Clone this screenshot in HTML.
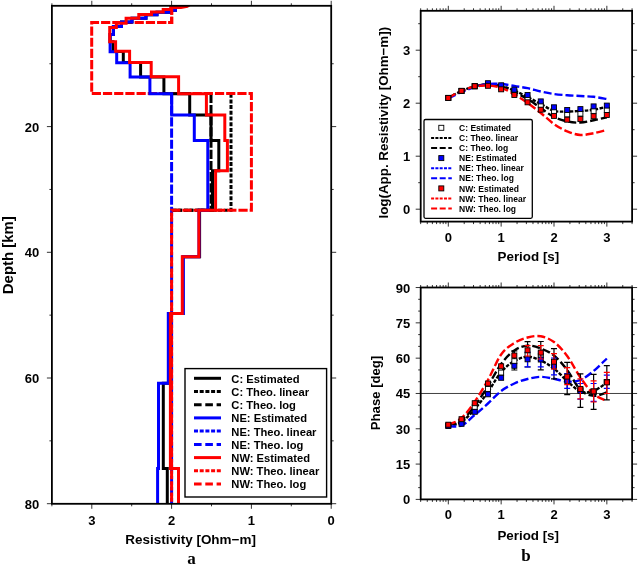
<!DOCTYPE html>
<html><head><meta charset="utf-8"><style>
html,body{margin:0;padding:0;background:#fff;width:638px;height:568px;overflow:hidden}
svg{display:block;filter:blur(0.35px)}
</style></head><body>
<svg width="638" height="568" viewBox="0 0 638 568">
<rect width="638" height="568" fill="#fff"/>
<defs><clipPath id="cl"><rect x="51.9" y="5.8" width="279.3" height="498.0"/></clipPath>
<clipPath id="cr1"><rect x="420.7" y="10.8" width="211.4" height="210.8"/></clipPath>
<clipPath id="cr2"><rect x="420.7" y="287.5" width="211.6" height="211.9"/></clipPath></defs>
<line x1="51.90" y1="503.80" x2="51.90" y2="506.30" stroke="#000000" stroke-width="1" stroke-opacity="0.8"/>
<line x1="51.90" y1="5.80" x2="51.90" y2="3.30" stroke="#000000" stroke-width="1" stroke-opacity="0.8"/>
<line x1="91.80" y1="503.80" x2="91.80" y2="508.80" stroke="#000000" stroke-width="1" stroke-opacity="0.8"/>
<line x1="91.80" y1="5.80" x2="91.80" y2="0.80" stroke="#000000" stroke-width="1" stroke-opacity="0.8"/>
<line x1="131.70" y1="503.80" x2="131.70" y2="506.30" stroke="#000000" stroke-width="1" stroke-opacity="0.8"/>
<line x1="131.70" y1="5.80" x2="131.70" y2="3.30" stroke="#000000" stroke-width="1" stroke-opacity="0.8"/>
<line x1="171.60" y1="503.80" x2="171.60" y2="508.80" stroke="#000000" stroke-width="1" stroke-opacity="0.8"/>
<line x1="171.60" y1="5.80" x2="171.60" y2="0.80" stroke="#000000" stroke-width="1" stroke-opacity="0.8"/>
<line x1="211.50" y1="503.80" x2="211.50" y2="506.30" stroke="#000000" stroke-width="1" stroke-opacity="0.8"/>
<line x1="211.50" y1="5.80" x2="211.50" y2="3.30" stroke="#000000" stroke-width="1" stroke-opacity="0.8"/>
<line x1="251.40" y1="503.80" x2="251.40" y2="508.80" stroke="#000000" stroke-width="1" stroke-opacity="0.8"/>
<line x1="251.40" y1="5.80" x2="251.40" y2="0.80" stroke="#000000" stroke-width="1" stroke-opacity="0.8"/>
<line x1="291.30" y1="503.80" x2="291.30" y2="506.30" stroke="#000000" stroke-width="1" stroke-opacity="0.8"/>
<line x1="291.30" y1="5.80" x2="291.30" y2="3.30" stroke="#000000" stroke-width="1" stroke-opacity="0.8"/>
<line x1="331.20" y1="503.80" x2="331.20" y2="508.80" stroke="#000000" stroke-width="1" stroke-opacity="0.8"/>
<line x1="331.20" y1="5.80" x2="331.20" y2="0.80" stroke="#000000" stroke-width="1" stroke-opacity="0.8"/>
<line x1="49.40" y1="63.75" x2="51.90" y2="63.75" stroke="#000000" stroke-width="1" stroke-opacity="0.8"/>
<line x1="331.20" y1="63.75" x2="333.70" y2="63.75" stroke="#000000" stroke-width="1" stroke-opacity="0.8"/>
<line x1="46.90" y1="126.60" x2="51.90" y2="126.60" stroke="#000000" stroke-width="1" stroke-opacity="0.8"/>
<line x1="331.20" y1="126.60" x2="336.20" y2="126.60" stroke="#000000" stroke-width="1" stroke-opacity="0.8"/>
<line x1="49.40" y1="189.45" x2="51.90" y2="189.45" stroke="#000000" stroke-width="1" stroke-opacity="0.8"/>
<line x1="331.20" y1="189.45" x2="333.70" y2="189.45" stroke="#000000" stroke-width="1" stroke-opacity="0.8"/>
<line x1="46.90" y1="252.30" x2="51.90" y2="252.30" stroke="#000000" stroke-width="1" stroke-opacity="0.8"/>
<line x1="331.20" y1="252.30" x2="336.20" y2="252.30" stroke="#000000" stroke-width="1" stroke-opacity="0.8"/>
<line x1="49.40" y1="315.15" x2="51.90" y2="315.15" stroke="#000000" stroke-width="1" stroke-opacity="0.8"/>
<line x1="331.20" y1="315.15" x2="333.70" y2="315.15" stroke="#000000" stroke-width="1" stroke-opacity="0.8"/>
<line x1="46.90" y1="378.00" x2="51.90" y2="378.00" stroke="#000000" stroke-width="1" stroke-opacity="0.8"/>
<line x1="331.20" y1="378.00" x2="336.20" y2="378.00" stroke="#000000" stroke-width="1" stroke-opacity="0.8"/>
<line x1="49.40" y1="440.85" x2="51.90" y2="440.85" stroke="#000000" stroke-width="1" stroke-opacity="0.8"/>
<line x1="331.20" y1="440.85" x2="333.70" y2="440.85" stroke="#000000" stroke-width="1" stroke-opacity="0.8"/>
<line x1="46.90" y1="503.70" x2="51.90" y2="503.70" stroke="#000000" stroke-width="1" stroke-opacity="0.8"/>
<line x1="331.20" y1="503.70" x2="336.20" y2="503.70" stroke="#000000" stroke-width="1" stroke-opacity="0.8"/>
<g clip-path="url(#cl)">
<polyline points="231.0,93.7 231.0,210.2 171.6,210.2" fill="none" stroke="#000000" stroke-width="3" stroke-dasharray="4 1.7" stroke-linejoin="miter" stroke-miterlimit="10"/>
<polyline points="211.0,93.7 211.0,210.2 171.6,210.2" fill="none" stroke="#000000" stroke-width="3" stroke-dasharray="9.2 2.0" stroke-linejoin="miter" stroke-miterlimit="10"/>
<polyline points="171.6,93.7 171.6,506.0" fill="none" stroke="#0000ff" stroke-width="3" stroke-dasharray="9.2 2.0" stroke-linejoin="miter" stroke-miterlimit="10" stroke-dashoffset="10.05"/>
<polyline points="171.7,0.0 171.7,22.6 91.7,22.6 91.7,93.6 251.4,93.6 251.4,210.2 171.6,210.2 171.6,506.0" fill="none" stroke="#ff0000" stroke-width="3" stroke-dasharray="9.2 2.0" stroke-linejoin="miter" stroke-miterlimit="10" stroke-dashoffset="5.55"/>
<polyline points="175.5,4.0 175.5,10.3 170.0,10.3 170.0,12.3 157.0,12.3 157.0,14.7 146.0,14.7 146.0,18.2 132.0,18.2 132.0,22.1 121.5,22.1 121.5,26.5 113.4,26.5 113.4,34.5 110.1,34.5 110.1,41.8 113.0,41.8 113.0,51.6 123.3,51.6 123.3,62.6 140.6,62.6 140.6,77.0 163.9,77.0 163.9,93.7 189.7,93.7 189.7,114.9 211.0,114.9 211.0,140.6 218.8,140.6 218.8,170.7 212.5,170.7 212.5,210.2 199.6,210.2 199.6,256.7 183.0,256.7 183.0,313.6 170.0,313.6 170.0,383.2 163.3,383.2 163.3,468.4 167.3,468.4 167.3,506.0" fill="none" stroke="#000000" stroke-width="3" stroke-linejoin="miter" stroke-miterlimit="10"/>
<polyline points="175.5,4.0 175.5,10.3 170.0,10.3 170.0,12.3 157.0,12.3 157.0,14.7 146.0,14.7 146.0,18.2 132.0,18.2 132.0,22.1 121.5,22.1 121.5,26.5 113.4,26.5 113.4,34.5 110.1,34.5 110.1,51.8 116.7,51.8 116.7,62.8 130.1,62.8 130.1,77.0 149.9,77.0 149.9,93.7 171.7,93.7 171.7,114.9 194.3,114.9 194.3,140.6 207.8,140.6 207.8,210.2 199.0,210.2 199.0,256.7 183.3,256.7 183.3,313.6 168.3,313.6 168.3,383.2 158.5,383.2 158.5,468.4 157.6,468.4 157.6,506.0" fill="none" stroke="#0000ff" stroke-width="3" stroke-linejoin="miter" stroke-miterlimit="10"/>
<polyline points="190.0,4.5 187.2,6.4 181.0,7.6 170.7,7.6 170.7,9.6 163.2,9.6 163.2,11.9 151.5,11.9 151.5,14.4 138.8,14.4 138.8,18.3 126.1,18.3 126.1,23.2 116.3,23.2 116.3,27.6 109.7,27.6 109.7,41.8 115.6,41.8 115.6,51.2 129.6,51.2 129.6,62.4 151.2,62.4 151.2,76.8 178.6,76.8 178.6,93.7 206.4,93.7 206.4,114.9 224.8,114.9 224.8,140.6 227.4,140.6 227.4,170.7 215.6,170.7 215.6,210.2 198.9,210.2 198.9,256.7 182.3,256.7 182.3,313.6 170.4,313.6 170.4,468.4 178.5,468.4 178.5,506.0" fill="none" stroke="#ff0000" stroke-width="3" stroke-linejoin="miter" stroke-miterlimit="10"/>
<polyline points="171.7,0.0 171.7,22.6 160.0,22.6" fill="none" stroke="#ff0000" stroke-width="3" stroke-dasharray="9.2 2.0" stroke-linejoin="miter" stroke-miterlimit="10" stroke-dashoffset="5.55"/>
</g>
<rect x="51.9" y="5.8" width="279.3" height="498.0" fill="none" stroke="#000" stroke-width="1.8"/>
<text x="39.30" y="131.60" font-family='"Liberation Sans", sans-serif' font-size="13" font-weight="bold" text-anchor="end">20</text>
<text x="39.30" y="257.30" font-family='"Liberation Sans", sans-serif' font-size="13" font-weight="bold" text-anchor="end">40</text>
<text x="39.30" y="383.00" font-family='"Liberation Sans", sans-serif' font-size="13" font-weight="bold" text-anchor="end">60</text>
<text x="39.30" y="508.70" font-family='"Liberation Sans", sans-serif' font-size="13" font-weight="bold" text-anchor="end">80</text>
<text x="91.80" y="525.00" font-family='"Liberation Sans", sans-serif' font-size="13" font-weight="bold" text-anchor="middle">3</text>
<text x="171.60" y="525.00" font-family='"Liberation Sans", sans-serif' font-size="13" font-weight="bold" text-anchor="middle">2</text>
<text x="251.40" y="525.00" font-family='"Liberation Sans", sans-serif' font-size="13" font-weight="bold" text-anchor="middle">1</text>
<text x="331.20" y="525.00" font-family='"Liberation Sans", sans-serif' font-size="13" font-weight="bold" text-anchor="middle">0</text>
<text x="190.60" y="543.60" font-family='"Liberation Sans", sans-serif' font-size="13" font-weight="bold" text-anchor="middle" textLength="130.6" lengthAdjust="spacingAndGlyphs">Resistivity [Ohm−m]</text>
<text x="0.00" y="0.00" font-family='"Liberation Sans", sans-serif' font-size="14.8" font-weight="bold" text-anchor="middle" transform="translate(13.3,255.2) rotate(-90)" textLength="78" lengthAdjust="spacingAndGlyphs">Depth [km]</text>
<text x="191.50" y="564.20" font-family='"Liberation Serif", serif' font-size="17" font-weight="bold" text-anchor="middle">a</text>
<rect x="185" y="368.6" width="141.6" height="128.4" fill="#fff" stroke="#000" stroke-width="1.4"/>
<polyline points="194.0,378.3 221.0,378.3" fill="none" stroke="#000000" stroke-width="3" stroke-linejoin="miter" stroke-miterlimit="10"/>
<text x="231.30" y="382.80" font-family='"Liberation Sans", sans-serif' font-size="11.2" font-weight="bold" text-anchor="start">C: Estimated</text>
<polyline points="194.0,391.5 221.0,391.5" fill="none" stroke="#000000" stroke-width="3" stroke-dasharray="4 1.7" stroke-linejoin="miter" stroke-miterlimit="10"/>
<text x="231.30" y="396.01" font-family='"Liberation Sans", sans-serif' font-size="11.2" font-weight="bold" text-anchor="start">C: Theo. linear</text>
<polyline points="194.0,404.7 221.0,404.7" fill="none" stroke="#000000" stroke-width="3" stroke-dasharray="7.6 3.7" stroke-linejoin="miter" stroke-miterlimit="10"/>
<text x="231.30" y="409.22" font-family='"Liberation Sans", sans-serif' font-size="11.2" font-weight="bold" text-anchor="start">C: Theo. log</text>
<polyline points="194.0,417.9 221.0,417.9" fill="none" stroke="#0000ff" stroke-width="3" stroke-linejoin="miter" stroke-miterlimit="10"/>
<text x="231.30" y="422.43" font-family='"Liberation Sans", sans-serif' font-size="11.2" font-weight="bold" text-anchor="start">NE: Estimated</text>
<polyline points="194.0,431.1 221.0,431.1" fill="none" stroke="#0000ff" stroke-width="3" stroke-dasharray="4 1.7" stroke-linejoin="miter" stroke-miterlimit="10"/>
<text x="231.30" y="435.64" font-family='"Liberation Sans", sans-serif' font-size="11.2" font-weight="bold" text-anchor="start">NE: Theo. linear</text>
<polyline points="194.0,444.4 221.0,444.4" fill="none" stroke="#0000ff" stroke-width="3" stroke-dasharray="7.6 3.7" stroke-linejoin="miter" stroke-miterlimit="10"/>
<text x="231.30" y="448.85" font-family='"Liberation Sans", sans-serif' font-size="11.2" font-weight="bold" text-anchor="start">NE: Theo. log</text>
<polyline points="194.0,457.6 221.0,457.6" fill="none" stroke="#ff0000" stroke-width="3" stroke-linejoin="miter" stroke-miterlimit="10"/>
<text x="231.30" y="462.06" font-family='"Liberation Sans", sans-serif' font-size="11.2" font-weight="bold" text-anchor="start">NW: Estimated</text>
<polyline points="194.0,470.8 221.0,470.8" fill="none" stroke="#ff0000" stroke-width="3" stroke-dasharray="4 1.7" stroke-linejoin="miter" stroke-miterlimit="10"/>
<text x="231.30" y="475.27" font-family='"Liberation Sans", sans-serif' font-size="11.2" font-weight="bold" text-anchor="start">NW: Theo. linear</text>
<polyline points="194.0,484.0 221.0,484.0" fill="none" stroke="#ff0000" stroke-width="3" stroke-dasharray="7.6 3.7" stroke-linejoin="miter" stroke-miterlimit="10"/>
<text x="231.30" y="488.48" font-family='"Liberation Sans", sans-serif' font-size="11.2" font-weight="bold" text-anchor="start">NW: Theo. log</text>
<line x1="420.67" y1="10.80" x2="420.67" y2="8.30" stroke="#000000" stroke-width="1" stroke-opacity="0.8"/>
<line x1="427.27" y1="10.80" x2="427.27" y2="8.30" stroke="#000000" stroke-width="1" stroke-opacity="0.8"/>
<line x1="432.39" y1="10.80" x2="432.39" y2="8.30" stroke="#000000" stroke-width="1" stroke-opacity="0.8"/>
<line x1="436.58" y1="10.80" x2="436.58" y2="8.30" stroke="#000000" stroke-width="1" stroke-opacity="0.8"/>
<line x1="440.11" y1="10.80" x2="440.11" y2="8.30" stroke="#000000" stroke-width="1" stroke-opacity="0.8"/>
<line x1="443.18" y1="10.80" x2="443.18" y2="8.30" stroke="#000000" stroke-width="1" stroke-opacity="0.8"/>
<line x1="445.88" y1="10.80" x2="445.88" y2="8.30" stroke="#000000" stroke-width="1" stroke-opacity="0.8"/>
<line x1="448.30" y1="10.80" x2="448.30" y2="5.80" stroke="#000000" stroke-width="1" stroke-opacity="0.8"/>
<line x1="464.21" y1="10.80" x2="464.21" y2="8.30" stroke="#000000" stroke-width="1" stroke-opacity="0.8"/>
<line x1="473.52" y1="10.80" x2="473.52" y2="8.30" stroke="#000000" stroke-width="1" stroke-opacity="0.8"/>
<line x1="480.12" y1="10.80" x2="480.12" y2="8.30" stroke="#000000" stroke-width="1" stroke-opacity="0.8"/>
<line x1="485.24" y1="10.80" x2="485.24" y2="8.30" stroke="#000000" stroke-width="1" stroke-opacity="0.8"/>
<line x1="489.43" y1="10.80" x2="489.43" y2="8.30" stroke="#000000" stroke-width="1" stroke-opacity="0.8"/>
<line x1="492.96" y1="10.80" x2="492.96" y2="8.30" stroke="#000000" stroke-width="1" stroke-opacity="0.8"/>
<line x1="496.03" y1="10.80" x2="496.03" y2="8.30" stroke="#000000" stroke-width="1" stroke-opacity="0.8"/>
<line x1="498.73" y1="10.80" x2="498.73" y2="8.30" stroke="#000000" stroke-width="1" stroke-opacity="0.8"/>
<line x1="501.15" y1="10.80" x2="501.15" y2="5.80" stroke="#000000" stroke-width="1" stroke-opacity="0.8"/>
<line x1="517.06" y1="10.80" x2="517.06" y2="8.30" stroke="#000000" stroke-width="1" stroke-opacity="0.8"/>
<line x1="526.37" y1="10.80" x2="526.37" y2="8.30" stroke="#000000" stroke-width="1" stroke-opacity="0.8"/>
<line x1="532.97" y1="10.80" x2="532.97" y2="8.30" stroke="#000000" stroke-width="1" stroke-opacity="0.8"/>
<line x1="538.09" y1="10.80" x2="538.09" y2="8.30" stroke="#000000" stroke-width="1" stroke-opacity="0.8"/>
<line x1="542.28" y1="10.80" x2="542.28" y2="8.30" stroke="#000000" stroke-width="1" stroke-opacity="0.8"/>
<line x1="545.81" y1="10.80" x2="545.81" y2="8.30" stroke="#000000" stroke-width="1" stroke-opacity="0.8"/>
<line x1="548.88" y1="10.80" x2="548.88" y2="8.30" stroke="#000000" stroke-width="1" stroke-opacity="0.8"/>
<line x1="551.58" y1="10.80" x2="551.58" y2="8.30" stroke="#000000" stroke-width="1" stroke-opacity="0.8"/>
<line x1="554.00" y1="10.80" x2="554.00" y2="5.80" stroke="#000000" stroke-width="1" stroke-opacity="0.8"/>
<line x1="569.91" y1="10.80" x2="569.91" y2="8.30" stroke="#000000" stroke-width="1" stroke-opacity="0.8"/>
<line x1="579.22" y1="10.80" x2="579.22" y2="8.30" stroke="#000000" stroke-width="1" stroke-opacity="0.8"/>
<line x1="585.82" y1="10.80" x2="585.82" y2="8.30" stroke="#000000" stroke-width="1" stroke-opacity="0.8"/>
<line x1="590.94" y1="10.80" x2="590.94" y2="8.30" stroke="#000000" stroke-width="1" stroke-opacity="0.8"/>
<line x1="595.13" y1="10.80" x2="595.13" y2="8.30" stroke="#000000" stroke-width="1" stroke-opacity="0.8"/>
<line x1="598.66" y1="10.80" x2="598.66" y2="8.30" stroke="#000000" stroke-width="1" stroke-opacity="0.8"/>
<line x1="601.73" y1="10.80" x2="601.73" y2="8.30" stroke="#000000" stroke-width="1" stroke-opacity="0.8"/>
<line x1="604.43" y1="10.80" x2="604.43" y2="8.30" stroke="#000000" stroke-width="1" stroke-opacity="0.8"/>
<line x1="606.85" y1="10.80" x2="606.85" y2="5.80" stroke="#000000" stroke-width="1" stroke-opacity="0.8"/>
<line x1="622.76" y1="10.80" x2="622.76" y2="8.30" stroke="#000000" stroke-width="1" stroke-opacity="0.8"/>
<line x1="632.07" y1="10.80" x2="632.07" y2="8.30" stroke="#000000" stroke-width="1" stroke-opacity="0.8"/>
<line x1="420.67" y1="221.60" x2="420.67" y2="224.10" stroke="#000000" stroke-width="1" stroke-opacity="0.8"/>
<line x1="427.27" y1="221.60" x2="427.27" y2="224.10" stroke="#000000" stroke-width="1" stroke-opacity="0.8"/>
<line x1="432.39" y1="221.60" x2="432.39" y2="224.10" stroke="#000000" stroke-width="1" stroke-opacity="0.8"/>
<line x1="436.58" y1="221.60" x2="436.58" y2="224.10" stroke="#000000" stroke-width="1" stroke-opacity="0.8"/>
<line x1="440.11" y1="221.60" x2="440.11" y2="224.10" stroke="#000000" stroke-width="1" stroke-opacity="0.8"/>
<line x1="443.18" y1="221.60" x2="443.18" y2="224.10" stroke="#000000" stroke-width="1" stroke-opacity="0.8"/>
<line x1="445.88" y1="221.60" x2="445.88" y2="224.10" stroke="#000000" stroke-width="1" stroke-opacity="0.8"/>
<line x1="448.30" y1="221.60" x2="448.30" y2="226.60" stroke="#000000" stroke-width="1" stroke-opacity="0.8"/>
<line x1="464.21" y1="221.60" x2="464.21" y2="224.10" stroke="#000000" stroke-width="1" stroke-opacity="0.8"/>
<line x1="473.52" y1="221.60" x2="473.52" y2="224.10" stroke="#000000" stroke-width="1" stroke-opacity="0.8"/>
<line x1="480.12" y1="221.60" x2="480.12" y2="224.10" stroke="#000000" stroke-width="1" stroke-opacity="0.8"/>
<line x1="485.24" y1="221.60" x2="485.24" y2="224.10" stroke="#000000" stroke-width="1" stroke-opacity="0.8"/>
<line x1="489.43" y1="221.60" x2="489.43" y2="224.10" stroke="#000000" stroke-width="1" stroke-opacity="0.8"/>
<line x1="492.96" y1="221.60" x2="492.96" y2="224.10" stroke="#000000" stroke-width="1" stroke-opacity="0.8"/>
<line x1="496.03" y1="221.60" x2="496.03" y2="224.10" stroke="#000000" stroke-width="1" stroke-opacity="0.8"/>
<line x1="498.73" y1="221.60" x2="498.73" y2="224.10" stroke="#000000" stroke-width="1" stroke-opacity="0.8"/>
<line x1="501.15" y1="221.60" x2="501.15" y2="226.60" stroke="#000000" stroke-width="1" stroke-opacity="0.8"/>
<line x1="517.06" y1="221.60" x2="517.06" y2="224.10" stroke="#000000" stroke-width="1" stroke-opacity="0.8"/>
<line x1="526.37" y1="221.60" x2="526.37" y2="224.10" stroke="#000000" stroke-width="1" stroke-opacity="0.8"/>
<line x1="532.97" y1="221.60" x2="532.97" y2="224.10" stroke="#000000" stroke-width="1" stroke-opacity="0.8"/>
<line x1="538.09" y1="221.60" x2="538.09" y2="224.10" stroke="#000000" stroke-width="1" stroke-opacity="0.8"/>
<line x1="542.28" y1="221.60" x2="542.28" y2="224.10" stroke="#000000" stroke-width="1" stroke-opacity="0.8"/>
<line x1="545.81" y1="221.60" x2="545.81" y2="224.10" stroke="#000000" stroke-width="1" stroke-opacity="0.8"/>
<line x1="548.88" y1="221.60" x2="548.88" y2="224.10" stroke="#000000" stroke-width="1" stroke-opacity="0.8"/>
<line x1="551.58" y1="221.60" x2="551.58" y2="224.10" stroke="#000000" stroke-width="1" stroke-opacity="0.8"/>
<line x1="554.00" y1="221.60" x2="554.00" y2="226.60" stroke="#000000" stroke-width="1" stroke-opacity="0.8"/>
<line x1="569.91" y1="221.60" x2="569.91" y2="224.10" stroke="#000000" stroke-width="1" stroke-opacity="0.8"/>
<line x1="579.22" y1="221.60" x2="579.22" y2="224.10" stroke="#000000" stroke-width="1" stroke-opacity="0.8"/>
<line x1="585.82" y1="221.60" x2="585.82" y2="224.10" stroke="#000000" stroke-width="1" stroke-opacity="0.8"/>
<line x1="590.94" y1="221.60" x2="590.94" y2="224.10" stroke="#000000" stroke-width="1" stroke-opacity="0.8"/>
<line x1="595.13" y1="221.60" x2="595.13" y2="224.10" stroke="#000000" stroke-width="1" stroke-opacity="0.8"/>
<line x1="598.66" y1="221.60" x2="598.66" y2="224.10" stroke="#000000" stroke-width="1" stroke-opacity="0.8"/>
<line x1="601.73" y1="221.60" x2="601.73" y2="224.10" stroke="#000000" stroke-width="1" stroke-opacity="0.8"/>
<line x1="604.43" y1="221.60" x2="604.43" y2="224.10" stroke="#000000" stroke-width="1" stroke-opacity="0.8"/>
<line x1="606.85" y1="221.60" x2="606.85" y2="226.60" stroke="#000000" stroke-width="1" stroke-opacity="0.8"/>
<line x1="622.76" y1="221.60" x2="622.76" y2="224.10" stroke="#000000" stroke-width="1" stroke-opacity="0.8"/>
<line x1="632.07" y1="221.60" x2="632.07" y2="224.10" stroke="#000000" stroke-width="1" stroke-opacity="0.8"/>
<line x1="415.70" y1="209.20" x2="420.70" y2="209.20" stroke="#000000" stroke-width="1" stroke-opacity="0.8"/>
<line x1="632.10" y1="209.20" x2="637.10" y2="209.20" stroke="#000000" stroke-width="1" stroke-opacity="0.8"/>
<line x1="418.20" y1="182.70" x2="420.70" y2="182.70" stroke="#000000" stroke-width="1" stroke-opacity="0.8"/>
<line x1="632.10" y1="182.70" x2="634.60" y2="182.70" stroke="#000000" stroke-width="1" stroke-opacity="0.8"/>
<line x1="415.70" y1="156.20" x2="420.70" y2="156.20" stroke="#000000" stroke-width="1" stroke-opacity="0.8"/>
<line x1="632.10" y1="156.20" x2="637.10" y2="156.20" stroke="#000000" stroke-width="1" stroke-opacity="0.8"/>
<line x1="418.20" y1="129.70" x2="420.70" y2="129.70" stroke="#000000" stroke-width="1" stroke-opacity="0.8"/>
<line x1="632.10" y1="129.70" x2="634.60" y2="129.70" stroke="#000000" stroke-width="1" stroke-opacity="0.8"/>
<line x1="415.70" y1="103.20" x2="420.70" y2="103.20" stroke="#000000" stroke-width="1" stroke-opacity="0.8"/>
<line x1="632.10" y1="103.20" x2="637.10" y2="103.20" stroke="#000000" stroke-width="1" stroke-opacity="0.8"/>
<line x1="418.20" y1="76.70" x2="420.70" y2="76.70" stroke="#000000" stroke-width="1" stroke-opacity="0.8"/>
<line x1="632.10" y1="76.70" x2="634.60" y2="76.70" stroke="#000000" stroke-width="1" stroke-opacity="0.8"/>
<line x1="415.70" y1="50.20" x2="420.70" y2="50.20" stroke="#000000" stroke-width="1" stroke-opacity="0.8"/>
<line x1="632.10" y1="50.20" x2="637.10" y2="50.20" stroke="#000000" stroke-width="1" stroke-opacity="0.8"/>
<line x1="418.20" y1="23.70" x2="420.70" y2="23.70" stroke="#000000" stroke-width="1" stroke-opacity="0.8"/>
<line x1="632.10" y1="23.70" x2="634.60" y2="23.70" stroke="#000000" stroke-width="1" stroke-opacity="0.8"/>
<g clip-path="url(#cr1)">
<path d="M448.30,97.90 C450.50,96.75 457.11,92.92 461.51,91.00 C465.91,89.08 470.32,87.48 474.72,86.40 C479.12,85.32 483.53,84.57 487.93,84.50 C492.33,84.43 496.74,85.00 501.14,86.00 C505.54,87.00 509.95,88.67 514.35,90.50 C518.75,92.33 523.16,94.75 527.56,97.00 C531.96,99.25 536.37,101.68 540.77,104.00 C545.17,106.32 549.58,109.65 553.98,110.90 C558.38,112.15 562.79,111.50 567.19,111.50 C571.59,111.50 576.00,111.20 580.40,110.90 C584.80,110.60 589.21,110.38 593.61,109.70 C598.01,109.02 604.62,107.28 606.82,106.80" fill="none" stroke="#000000" stroke-width="2.4" stroke-dasharray="3.5 1.5"/>
<path d="M448.30,97.90 C450.50,96.75 457.11,92.92 461.51,91.00 C465.91,89.08 470.32,87.48 474.72,86.40 C479.12,85.32 483.53,84.48 487.93,84.50 C492.33,84.52 496.74,85.25 501.14,86.50 C505.54,87.75 509.95,89.92 514.35,92.00 C518.75,94.08 523.16,96.33 527.56,99.00 C531.96,101.67 536.37,105.00 540.77,108.00 C545.17,111.00 549.58,114.77 553.98,117.00 C558.38,119.23 562.79,120.47 567.19,121.40 C571.59,122.33 576.00,122.78 580.40,122.60 C584.80,122.42 589.21,121.18 593.61,120.30 C598.01,119.42 604.62,117.80 606.82,117.30" fill="none" stroke="#000000" stroke-width="2.4" stroke-dasharray="8 3"/>
<path d="M448.30,98.60 C450.50,97.50 457.11,93.90 461.51,92.00 C465.91,90.10 470.32,88.53 474.72,87.20 C479.12,85.87 483.53,84.53 487.93,84.00 C492.33,83.47 496.74,83.67 501.14,84.00 C505.54,84.33 509.95,85.30 514.35,86.00 C518.75,86.70 523.16,87.28 527.56,88.20 C531.96,89.12 536.37,90.53 540.77,91.50 C545.17,92.47 549.58,93.38 553.98,94.00 C558.38,94.62 562.79,94.87 567.19,95.20 C571.59,95.53 576.00,95.73 580.40,96.00 C584.80,96.27 589.21,96.30 593.61,96.80 C598.01,97.30 604.62,98.63 606.82,99.00" fill="none" stroke="#0000ff" stroke-width="2.4" stroke-dasharray="8 3"/>
<path d="M448.30,97.90 C450.50,96.75 457.11,92.90 461.51,91.00 C465.91,89.10 470.32,87.42 474.72,86.50 C479.12,85.58 483.53,85.28 487.93,85.50 C492.33,85.72 496.74,86.32 501.14,87.80 C505.54,89.28 509.95,91.87 514.35,94.40 C518.75,96.93 523.16,99.90 527.56,103.00 C531.96,106.10 536.37,109.50 540.77,113.00 C545.17,116.50 549.58,120.93 553.98,124.00 C558.38,127.07 562.79,129.57 567.19,131.40 C571.59,133.23 576.00,134.70 580.40,135.00 C584.80,135.30 589.21,134.03 593.61,133.20 C598.01,132.37 604.62,130.53 606.82,130.00" fill="none" stroke="#ff0000" stroke-width="2.4" stroke-dasharray="8 3"/>
<rect x="445.80" y="95.40" width="5" height="5" fill="#fff" stroke="#000" stroke-width="0.9"/>
<rect x="459.01" y="88.50" width="5" height="5" fill="#fff" stroke="#000" stroke-width="0.9"/>
<rect x="472.22" y="83.90" width="5" height="5" fill="#fff" stroke="#000" stroke-width="0.9"/>
<rect x="485.43" y="82.10" width="5" height="5" fill="#fff" stroke="#000" stroke-width="0.9"/>
<rect x="498.64" y="84.50" width="5" height="5" fill="#fff" stroke="#000" stroke-width="0.9"/>
<rect x="511.85" y="89.50" width="5" height="5" fill="#fff" stroke="#000" stroke-width="0.9"/>
<rect x="525.06" y="96.00" width="5" height="5" fill="#fff" stroke="#000" stroke-width="0.9"/>
<rect x="538.27" y="102.70" width="5" height="5" fill="#fff" stroke="#000" stroke-width="0.9"/>
<rect x="551.48" y="109.00" width="5" height="5" fill="#fff" stroke="#000" stroke-width="0.9"/>
<rect x="564.69" y="111.90" width="5" height="5" fill="#fff" stroke="#000" stroke-width="0.9"/>
<rect x="577.90" y="111.10" width="5" height="5" fill="#fff" stroke="#000" stroke-width="0.9"/>
<rect x="591.11" y="108.40" width="5" height="5" fill="#fff" stroke="#000" stroke-width="0.9"/>
<rect x="604.32" y="107.50" width="5" height="5" fill="#fff" stroke="#000" stroke-width="0.9"/>
<rect x="445.80" y="95.50" width="5" height="5" fill="#0000ff" stroke="#000" stroke-width="0.9"/>
<rect x="459.01" y="88.50" width="5" height="5" fill="#0000ff" stroke="#000" stroke-width="0.9"/>
<rect x="472.22" y="83.50" width="5" height="5" fill="#0000ff" stroke="#000" stroke-width="0.9"/>
<rect x="485.43" y="80.70" width="5" height="5" fill="#0000ff" stroke="#000" stroke-width="0.9"/>
<rect x="498.64" y="82.80" width="5" height="5" fill="#0000ff" stroke="#000" stroke-width="0.9"/>
<rect x="511.85" y="87.20" width="5" height="5" fill="#0000ff" stroke="#000" stroke-width="0.9"/>
<rect x="525.06" y="92.50" width="5" height="5" fill="#0000ff" stroke="#000" stroke-width="0.9"/>
<rect x="538.27" y="98.90" width="5" height="5" fill="#0000ff" stroke="#000" stroke-width="0.9"/>
<rect x="551.48" y="104.80" width="5" height="5" fill="#0000ff" stroke="#000" stroke-width="0.9"/>
<rect x="564.69" y="107.50" width="5" height="5" fill="#0000ff" stroke="#000" stroke-width="0.9"/>
<rect x="577.90" y="106.60" width="5" height="5" fill="#0000ff" stroke="#000" stroke-width="0.9"/>
<rect x="591.11" y="103.90" width="5" height="5" fill="#0000ff" stroke="#000" stroke-width="0.9"/>
<rect x="604.32" y="103.10" width="5" height="5" fill="#0000ff" stroke="#000" stroke-width="0.9"/>
<rect x="445.80" y="95.40" width="5" height="5" fill="#ff0000" stroke="#000" stroke-width="0.9"/>
<rect x="459.01" y="88.30" width="5" height="5" fill="#ff0000" stroke="#000" stroke-width="0.9"/>
<rect x="472.22" y="83.70" width="5" height="5" fill="#ff0000" stroke="#000" stroke-width="0.9"/>
<rect x="485.43" y="83.30" width="5" height="5" fill="#ff0000" stroke="#000" stroke-width="0.9"/>
<rect x="498.64" y="86.80" width="5" height="5" fill="#ff0000" stroke="#000" stroke-width="0.9"/>
<rect x="511.85" y="92.50" width="5" height="5" fill="#ff0000" stroke="#000" stroke-width="0.9"/>
<rect x="525.06" y="99.80" width="5" height="5" fill="#ff0000" stroke="#000" stroke-width="0.9"/>
<rect x="538.27" y="107.20" width="5" height="5" fill="#ff0000" stroke="#000" stroke-width="0.9"/>
<rect x="551.48" y="113.40" width="5" height="5" fill="#ff0000" stroke="#000" stroke-width="0.9"/>
<rect x="564.69" y="117.20" width="5" height="5" fill="#ff0000" stroke="#000" stroke-width="0.9"/>
<rect x="577.90" y="116.60" width="5" height="5" fill="#ff0000" stroke="#000" stroke-width="0.9"/>
<rect x="591.11" y="113.70" width="5" height="5" fill="#ff0000" stroke="#000" stroke-width="0.9"/>
<rect x="604.32" y="112.50" width="5" height="5" fill="#ff0000" stroke="#000" stroke-width="0.9"/>
</g>
<rect x="420.7" y="10.8" width="211.4" height="210.8" fill="none" stroke="#000" stroke-width="1.8"/>
<text x="410.30" y="214.20" font-family='"Liberation Sans", sans-serif' font-size="13" font-weight="bold" text-anchor="end">0</text>
<text x="410.30" y="161.20" font-family='"Liberation Sans", sans-serif' font-size="13" font-weight="bold" text-anchor="end">1</text>
<text x="410.30" y="108.20" font-family='"Liberation Sans", sans-serif' font-size="13" font-weight="bold" text-anchor="end">2</text>
<text x="410.30" y="55.20" font-family='"Liberation Sans", sans-serif' font-size="13" font-weight="bold" text-anchor="end">3</text>
<text x="448.30" y="241.60" font-family='"Liberation Sans", sans-serif' font-size="13" font-weight="bold" text-anchor="middle">0</text>
<text x="501.15" y="241.60" font-family='"Liberation Sans", sans-serif' font-size="13" font-weight="bold" text-anchor="middle">1</text>
<text x="554.00" y="241.60" font-family='"Liberation Sans", sans-serif' font-size="13" font-weight="bold" text-anchor="middle">2</text>
<text x="606.85" y="241.60" font-family='"Liberation Sans", sans-serif' font-size="13" font-weight="bold" text-anchor="middle">3</text>
<text x="528.40" y="261.20" font-family='"Liberation Sans", sans-serif' font-size="13" font-weight="bold" text-anchor="middle" textLength="61.8" lengthAdjust="spacingAndGlyphs">Period [s]</text>
<text x="0.00" y="0.00" font-family='"Liberation Sans", sans-serif' font-size="13.2" font-weight="bold" text-anchor="middle" transform="translate(388.2,122.7) rotate(-90)" textLength="191.6" lengthAdjust="spacingAndGlyphs">log(App. Resistivity [Ohm−m])</text>
<rect x="424" y="119.5" width="108.3" height="98.8" rx="1.5" fill="#fff" stroke="#000" stroke-width="1.3"/>
<rect x="438.80" y="125.30" width="5" height="5" fill="#fff" stroke="#000" stroke-width="0.9"/>
<text x="459.10" y="130.90" font-family='"Liberation Sans", sans-serif' font-size="8.5" font-weight="bold" text-anchor="start">C: Estimated</text>
<polyline points="431.1,137.9 451.8,137.9" fill="none" stroke="#000000" stroke-width="2" stroke-dasharray="3 1.3" stroke-linejoin="miter" stroke-miterlimit="10"/>
<text x="459.10" y="141.00" font-family='"Liberation Sans", sans-serif' font-size="8.5" font-weight="bold" text-anchor="start">C: Theo. linear</text>
<polyline points="431.1,148.0 451.8,148.0" fill="none" stroke="#000000" stroke-width="2" stroke-dasharray="6 2.6" stroke-linejoin="miter" stroke-miterlimit="10"/>
<text x="459.10" y="151.10" font-family='"Liberation Sans", sans-serif' font-size="8.5" font-weight="bold" text-anchor="start">C: Theo. log</text>
<rect x="438.80" y="155.60" width="5" height="5" fill="#0000ff" stroke="#000" stroke-width="0.9"/>
<text x="459.10" y="161.20" font-family='"Liberation Sans", sans-serif' font-size="8.5" font-weight="bold" text-anchor="start">NE: Estimated</text>
<polyline points="431.1,168.2 451.8,168.2" fill="none" stroke="#0000ff" stroke-width="2" stroke-dasharray="3 1.3" stroke-linejoin="miter" stroke-miterlimit="10"/>
<text x="459.10" y="171.30" font-family='"Liberation Sans", sans-serif' font-size="8.5" font-weight="bold" text-anchor="start">NE: Theo. linear</text>
<polyline points="431.1,178.3 451.8,178.3" fill="none" stroke="#0000ff" stroke-width="2" stroke-dasharray="6 2.6" stroke-linejoin="miter" stroke-miterlimit="10"/>
<text x="459.10" y="181.40" font-family='"Liberation Sans", sans-serif' font-size="8.5" font-weight="bold" text-anchor="start">NE: Theo. log</text>
<rect x="438.80" y="185.90" width="5" height="5" fill="#ff0000" stroke="#000" stroke-width="0.9"/>
<text x="459.10" y="191.50" font-family='"Liberation Sans", sans-serif' font-size="8.5" font-weight="bold" text-anchor="start">NW: Estimated</text>
<polyline points="431.1,198.5 451.8,198.5" fill="none" stroke="#ff0000" stroke-width="2" stroke-dasharray="3 1.3" stroke-linejoin="miter" stroke-miterlimit="10"/>
<text x="459.10" y="201.60" font-family='"Liberation Sans", sans-serif' font-size="8.5" font-weight="bold" text-anchor="start">NW: Theo. linear</text>
<polyline points="431.1,208.6 451.8,208.6" fill="none" stroke="#ff0000" stroke-width="2" stroke-dasharray="6 2.6" stroke-linejoin="miter" stroke-miterlimit="10"/>
<text x="459.10" y="211.70" font-family='"Liberation Sans", sans-serif' font-size="8.5" font-weight="bold" text-anchor="start">NW: Theo. log</text>
<line x1="420.67" y1="287.50" x2="420.67" y2="285.00" stroke="#000000" stroke-width="1" stroke-opacity="0.8"/>
<line x1="427.27" y1="287.50" x2="427.27" y2="285.00" stroke="#000000" stroke-width="1" stroke-opacity="0.8"/>
<line x1="432.39" y1="287.50" x2="432.39" y2="285.00" stroke="#000000" stroke-width="1" stroke-opacity="0.8"/>
<line x1="436.58" y1="287.50" x2="436.58" y2="285.00" stroke="#000000" stroke-width="1" stroke-opacity="0.8"/>
<line x1="440.11" y1="287.50" x2="440.11" y2="285.00" stroke="#000000" stroke-width="1" stroke-opacity="0.8"/>
<line x1="443.18" y1="287.50" x2="443.18" y2="285.00" stroke="#000000" stroke-width="1" stroke-opacity="0.8"/>
<line x1="445.88" y1="287.50" x2="445.88" y2="285.00" stroke="#000000" stroke-width="1" stroke-opacity="0.8"/>
<line x1="448.30" y1="287.50" x2="448.30" y2="282.50" stroke="#000000" stroke-width="1" stroke-opacity="0.8"/>
<line x1="464.21" y1="287.50" x2="464.21" y2="285.00" stroke="#000000" stroke-width="1" stroke-opacity="0.8"/>
<line x1="473.52" y1="287.50" x2="473.52" y2="285.00" stroke="#000000" stroke-width="1" stroke-opacity="0.8"/>
<line x1="480.12" y1="287.50" x2="480.12" y2="285.00" stroke="#000000" stroke-width="1" stroke-opacity="0.8"/>
<line x1="485.24" y1="287.50" x2="485.24" y2="285.00" stroke="#000000" stroke-width="1" stroke-opacity="0.8"/>
<line x1="489.43" y1="287.50" x2="489.43" y2="285.00" stroke="#000000" stroke-width="1" stroke-opacity="0.8"/>
<line x1="492.96" y1="287.50" x2="492.96" y2="285.00" stroke="#000000" stroke-width="1" stroke-opacity="0.8"/>
<line x1="496.03" y1="287.50" x2="496.03" y2="285.00" stroke="#000000" stroke-width="1" stroke-opacity="0.8"/>
<line x1="498.73" y1="287.50" x2="498.73" y2="285.00" stroke="#000000" stroke-width="1" stroke-opacity="0.8"/>
<line x1="501.15" y1="287.50" x2="501.15" y2="282.50" stroke="#000000" stroke-width="1" stroke-opacity="0.8"/>
<line x1="517.06" y1="287.50" x2="517.06" y2="285.00" stroke="#000000" stroke-width="1" stroke-opacity="0.8"/>
<line x1="526.37" y1="287.50" x2="526.37" y2="285.00" stroke="#000000" stroke-width="1" stroke-opacity="0.8"/>
<line x1="532.97" y1="287.50" x2="532.97" y2="285.00" stroke="#000000" stroke-width="1" stroke-opacity="0.8"/>
<line x1="538.09" y1="287.50" x2="538.09" y2="285.00" stroke="#000000" stroke-width="1" stroke-opacity="0.8"/>
<line x1="542.28" y1="287.50" x2="542.28" y2="285.00" stroke="#000000" stroke-width="1" stroke-opacity="0.8"/>
<line x1="545.81" y1="287.50" x2="545.81" y2="285.00" stroke="#000000" stroke-width="1" stroke-opacity="0.8"/>
<line x1="548.88" y1="287.50" x2="548.88" y2="285.00" stroke="#000000" stroke-width="1" stroke-opacity="0.8"/>
<line x1="551.58" y1="287.50" x2="551.58" y2="285.00" stroke="#000000" stroke-width="1" stroke-opacity="0.8"/>
<line x1="554.00" y1="287.50" x2="554.00" y2="282.50" stroke="#000000" stroke-width="1" stroke-opacity="0.8"/>
<line x1="569.91" y1="287.50" x2="569.91" y2="285.00" stroke="#000000" stroke-width="1" stroke-opacity="0.8"/>
<line x1="579.22" y1="287.50" x2="579.22" y2="285.00" stroke="#000000" stroke-width="1" stroke-opacity="0.8"/>
<line x1="585.82" y1="287.50" x2="585.82" y2="285.00" stroke="#000000" stroke-width="1" stroke-opacity="0.8"/>
<line x1="590.94" y1="287.50" x2="590.94" y2="285.00" stroke="#000000" stroke-width="1" stroke-opacity="0.8"/>
<line x1="595.13" y1="287.50" x2="595.13" y2="285.00" stroke="#000000" stroke-width="1" stroke-opacity="0.8"/>
<line x1="598.66" y1="287.50" x2="598.66" y2="285.00" stroke="#000000" stroke-width="1" stroke-opacity="0.8"/>
<line x1="601.73" y1="287.50" x2="601.73" y2="285.00" stroke="#000000" stroke-width="1" stroke-opacity="0.8"/>
<line x1="604.43" y1="287.50" x2="604.43" y2="285.00" stroke="#000000" stroke-width="1" stroke-opacity="0.8"/>
<line x1="606.85" y1="287.50" x2="606.85" y2="282.50" stroke="#000000" stroke-width="1" stroke-opacity="0.8"/>
<line x1="622.76" y1="287.50" x2="622.76" y2="285.00" stroke="#000000" stroke-width="1" stroke-opacity="0.8"/>
<line x1="632.07" y1="287.50" x2="632.07" y2="285.00" stroke="#000000" stroke-width="1" stroke-opacity="0.8"/>
<line x1="420.67" y1="499.40" x2="420.67" y2="501.90" stroke="#000000" stroke-width="1" stroke-opacity="0.8"/>
<line x1="427.27" y1="499.40" x2="427.27" y2="501.90" stroke="#000000" stroke-width="1" stroke-opacity="0.8"/>
<line x1="432.39" y1="499.40" x2="432.39" y2="501.90" stroke="#000000" stroke-width="1" stroke-opacity="0.8"/>
<line x1="436.58" y1="499.40" x2="436.58" y2="501.90" stroke="#000000" stroke-width="1" stroke-opacity="0.8"/>
<line x1="440.11" y1="499.40" x2="440.11" y2="501.90" stroke="#000000" stroke-width="1" stroke-opacity="0.8"/>
<line x1="443.18" y1="499.40" x2="443.18" y2="501.90" stroke="#000000" stroke-width="1" stroke-opacity="0.8"/>
<line x1="445.88" y1="499.40" x2="445.88" y2="501.90" stroke="#000000" stroke-width="1" stroke-opacity="0.8"/>
<line x1="448.30" y1="499.40" x2="448.30" y2="504.40" stroke="#000000" stroke-width="1" stroke-opacity="0.8"/>
<line x1="464.21" y1="499.40" x2="464.21" y2="501.90" stroke="#000000" stroke-width="1" stroke-opacity="0.8"/>
<line x1="473.52" y1="499.40" x2="473.52" y2="501.90" stroke="#000000" stroke-width="1" stroke-opacity="0.8"/>
<line x1="480.12" y1="499.40" x2="480.12" y2="501.90" stroke="#000000" stroke-width="1" stroke-opacity="0.8"/>
<line x1="485.24" y1="499.40" x2="485.24" y2="501.90" stroke="#000000" stroke-width="1" stroke-opacity="0.8"/>
<line x1="489.43" y1="499.40" x2="489.43" y2="501.90" stroke="#000000" stroke-width="1" stroke-opacity="0.8"/>
<line x1="492.96" y1="499.40" x2="492.96" y2="501.90" stroke="#000000" stroke-width="1" stroke-opacity="0.8"/>
<line x1="496.03" y1="499.40" x2="496.03" y2="501.90" stroke="#000000" stroke-width="1" stroke-opacity="0.8"/>
<line x1="498.73" y1="499.40" x2="498.73" y2="501.90" stroke="#000000" stroke-width="1" stroke-opacity="0.8"/>
<line x1="501.15" y1="499.40" x2="501.15" y2="504.40" stroke="#000000" stroke-width="1" stroke-opacity="0.8"/>
<line x1="517.06" y1="499.40" x2="517.06" y2="501.90" stroke="#000000" stroke-width="1" stroke-opacity="0.8"/>
<line x1="526.37" y1="499.40" x2="526.37" y2="501.90" stroke="#000000" stroke-width="1" stroke-opacity="0.8"/>
<line x1="532.97" y1="499.40" x2="532.97" y2="501.90" stroke="#000000" stroke-width="1" stroke-opacity="0.8"/>
<line x1="538.09" y1="499.40" x2="538.09" y2="501.90" stroke="#000000" stroke-width="1" stroke-opacity="0.8"/>
<line x1="542.28" y1="499.40" x2="542.28" y2="501.90" stroke="#000000" stroke-width="1" stroke-opacity="0.8"/>
<line x1="545.81" y1="499.40" x2="545.81" y2="501.90" stroke="#000000" stroke-width="1" stroke-opacity="0.8"/>
<line x1="548.88" y1="499.40" x2="548.88" y2="501.90" stroke="#000000" stroke-width="1" stroke-opacity="0.8"/>
<line x1="551.58" y1="499.40" x2="551.58" y2="501.90" stroke="#000000" stroke-width="1" stroke-opacity="0.8"/>
<line x1="554.00" y1="499.40" x2="554.00" y2="504.40" stroke="#000000" stroke-width="1" stroke-opacity="0.8"/>
<line x1="569.91" y1="499.40" x2="569.91" y2="501.90" stroke="#000000" stroke-width="1" stroke-opacity="0.8"/>
<line x1="579.22" y1="499.40" x2="579.22" y2="501.90" stroke="#000000" stroke-width="1" stroke-opacity="0.8"/>
<line x1="585.82" y1="499.40" x2="585.82" y2="501.90" stroke="#000000" stroke-width="1" stroke-opacity="0.8"/>
<line x1="590.94" y1="499.40" x2="590.94" y2="501.90" stroke="#000000" stroke-width="1" stroke-opacity="0.8"/>
<line x1="595.13" y1="499.40" x2="595.13" y2="501.90" stroke="#000000" stroke-width="1" stroke-opacity="0.8"/>
<line x1="598.66" y1="499.40" x2="598.66" y2="501.90" stroke="#000000" stroke-width="1" stroke-opacity="0.8"/>
<line x1="601.73" y1="499.40" x2="601.73" y2="501.90" stroke="#000000" stroke-width="1" stroke-opacity="0.8"/>
<line x1="604.43" y1="499.40" x2="604.43" y2="501.90" stroke="#000000" stroke-width="1" stroke-opacity="0.8"/>
<line x1="606.85" y1="499.40" x2="606.85" y2="504.40" stroke="#000000" stroke-width="1" stroke-opacity="0.8"/>
<line x1="622.76" y1="499.40" x2="622.76" y2="501.90" stroke="#000000" stroke-width="1" stroke-opacity="0.8"/>
<line x1="632.07" y1="499.40" x2="632.07" y2="501.90" stroke="#000000" stroke-width="1" stroke-opacity="0.8"/>
<line x1="415.70" y1="499.40" x2="420.70" y2="499.40" stroke="#000000" stroke-width="1" stroke-opacity="0.8"/>
<line x1="632.10" y1="499.40" x2="637.10" y2="499.40" stroke="#000000" stroke-width="1" stroke-opacity="0.8"/>
<line x1="418.20" y1="487.63" x2="420.70" y2="487.63" stroke="#000000" stroke-width="1" stroke-opacity="0.8"/>
<line x1="632.10" y1="487.63" x2="634.60" y2="487.63" stroke="#000000" stroke-width="1" stroke-opacity="0.8"/>
<line x1="418.20" y1="475.86" x2="420.70" y2="475.86" stroke="#000000" stroke-width="1" stroke-opacity="0.8"/>
<line x1="632.10" y1="475.86" x2="634.60" y2="475.86" stroke="#000000" stroke-width="1" stroke-opacity="0.8"/>
<line x1="415.70" y1="464.09" x2="420.70" y2="464.09" stroke="#000000" stroke-width="1" stroke-opacity="0.8"/>
<line x1="632.10" y1="464.09" x2="637.10" y2="464.09" stroke="#000000" stroke-width="1" stroke-opacity="0.8"/>
<line x1="418.20" y1="452.32" x2="420.70" y2="452.32" stroke="#000000" stroke-width="1" stroke-opacity="0.8"/>
<line x1="632.10" y1="452.32" x2="634.60" y2="452.32" stroke="#000000" stroke-width="1" stroke-opacity="0.8"/>
<line x1="418.20" y1="440.55" x2="420.70" y2="440.55" stroke="#000000" stroke-width="1" stroke-opacity="0.8"/>
<line x1="632.10" y1="440.55" x2="634.60" y2="440.55" stroke="#000000" stroke-width="1" stroke-opacity="0.8"/>
<line x1="415.70" y1="428.78" x2="420.70" y2="428.78" stroke="#000000" stroke-width="1" stroke-opacity="0.8"/>
<line x1="632.10" y1="428.78" x2="637.10" y2="428.78" stroke="#000000" stroke-width="1" stroke-opacity="0.8"/>
<line x1="418.20" y1="417.01" x2="420.70" y2="417.01" stroke="#000000" stroke-width="1" stroke-opacity="0.8"/>
<line x1="632.10" y1="417.01" x2="634.60" y2="417.01" stroke="#000000" stroke-width="1" stroke-opacity="0.8"/>
<line x1="418.20" y1="405.24" x2="420.70" y2="405.24" stroke="#000000" stroke-width="1" stroke-opacity="0.8"/>
<line x1="632.10" y1="405.24" x2="634.60" y2="405.24" stroke="#000000" stroke-width="1" stroke-opacity="0.8"/>
<line x1="415.70" y1="393.47" x2="420.70" y2="393.47" stroke="#000000" stroke-width="1" stroke-opacity="0.8"/>
<line x1="632.10" y1="393.47" x2="637.10" y2="393.47" stroke="#000000" stroke-width="1" stroke-opacity="0.8"/>
<line x1="418.20" y1="381.70" x2="420.70" y2="381.70" stroke="#000000" stroke-width="1" stroke-opacity="0.8"/>
<line x1="632.10" y1="381.70" x2="634.60" y2="381.70" stroke="#000000" stroke-width="1" stroke-opacity="0.8"/>
<line x1="418.20" y1="369.93" x2="420.70" y2="369.93" stroke="#000000" stroke-width="1" stroke-opacity="0.8"/>
<line x1="632.10" y1="369.93" x2="634.60" y2="369.93" stroke="#000000" stroke-width="1" stroke-opacity="0.8"/>
<line x1="415.70" y1="358.16" x2="420.70" y2="358.16" stroke="#000000" stroke-width="1" stroke-opacity="0.8"/>
<line x1="632.10" y1="358.16" x2="637.10" y2="358.16" stroke="#000000" stroke-width="1" stroke-opacity="0.8"/>
<line x1="418.20" y1="346.39" x2="420.70" y2="346.39" stroke="#000000" stroke-width="1" stroke-opacity="0.8"/>
<line x1="632.10" y1="346.39" x2="634.60" y2="346.39" stroke="#000000" stroke-width="1" stroke-opacity="0.8"/>
<line x1="418.20" y1="334.62" x2="420.70" y2="334.62" stroke="#000000" stroke-width="1" stroke-opacity="0.8"/>
<line x1="632.10" y1="334.62" x2="634.60" y2="334.62" stroke="#000000" stroke-width="1" stroke-opacity="0.8"/>
<line x1="415.70" y1="322.85" x2="420.70" y2="322.85" stroke="#000000" stroke-width="1" stroke-opacity="0.8"/>
<line x1="632.10" y1="322.85" x2="637.10" y2="322.85" stroke="#000000" stroke-width="1" stroke-opacity="0.8"/>
<line x1="418.20" y1="311.08" x2="420.70" y2="311.08" stroke="#000000" stroke-width="1" stroke-opacity="0.8"/>
<line x1="632.10" y1="311.08" x2="634.60" y2="311.08" stroke="#000000" stroke-width="1" stroke-opacity="0.8"/>
<line x1="418.20" y1="299.31" x2="420.70" y2="299.31" stroke="#000000" stroke-width="1" stroke-opacity="0.8"/>
<line x1="632.10" y1="299.31" x2="634.60" y2="299.31" stroke="#000000" stroke-width="1" stroke-opacity="0.8"/>
<line x1="415.70" y1="287.54" x2="420.70" y2="287.54" stroke="#000000" stroke-width="1" stroke-opacity="0.8"/>
<line x1="632.10" y1="287.54" x2="637.10" y2="287.54" stroke="#000000" stroke-width="1" stroke-opacity="0.8"/>
<g clip-path="url(#cr2)">
<line x1="420.70" y1="393.47" x2="632.10" y2="393.47" stroke="#000" stroke-width="1" stroke-opacity="0.75"/>
<path d="M448.30,425.50 C450.50,424.92 457.11,424.75 461.51,422.00 C465.91,419.25 470.32,414.00 474.72,409.00 C479.12,404.00 483.53,398.17 487.93,392.00 C492.33,385.83 496.74,377.17 501.14,372.00 C505.54,366.83 509.95,363.53 514.35,361.00 C518.75,358.47 523.16,356.88 527.56,356.80 C531.96,356.72 536.37,358.53 540.77,360.50 C545.17,362.47 549.58,365.18 553.98,368.60 C558.38,372.02 562.79,377.20 567.19,381.00 C571.59,384.80 576.00,389.73 580.40,391.40 C584.80,393.07 589.21,392.48 593.61,391.00 C598.01,389.52 604.62,383.92 606.82,382.50" fill="none" stroke="#000000" stroke-width="2.4" stroke-dasharray="3.5 1.5"/>
<path d="M448.30,425.00 C450.50,424.17 457.11,423.17 461.51,420.00 C465.91,416.83 470.32,411.67 474.72,406.00 C479.12,400.33 483.53,393.00 487.93,386.00 C492.33,379.00 496.74,369.92 501.14,364.00 C505.54,358.08 509.95,353.57 514.35,350.50 C518.75,347.43 523.16,345.93 527.56,345.60 C531.96,345.27 536.37,346.85 540.77,348.50 C545.17,350.15 549.58,351.92 553.98,355.50 C558.38,359.08 562.79,364.25 567.19,370.00 C571.59,375.75 576.00,385.70 580.40,390.00 C584.80,394.30 589.21,395.38 593.61,395.80 C598.01,396.22 604.62,393.05 606.82,392.50" fill="none" stroke="#000000" stroke-width="2.4" stroke-dasharray="8 3"/>
<path d="M448.30,426.10 C450.50,426.00 457.11,427.35 461.51,425.50 C465.91,423.65 470.32,418.67 474.72,415.00 C479.12,411.33 483.53,407.50 487.93,403.50 C492.33,399.50 496.74,394.33 501.14,391.00 C505.54,387.67 509.95,385.50 514.35,383.50 C518.75,381.50 523.16,380.12 527.56,379.00 C531.96,377.88 536.37,376.83 540.77,376.80 C545.17,376.77 549.58,378.02 553.98,378.80 C558.38,379.58 562.79,381.30 567.19,381.50 C571.59,381.70 576.00,381.75 580.40,380.00 C584.80,378.25 589.21,374.58 593.61,371.00 C598.01,367.42 604.62,360.58 606.82,358.50" fill="none" stroke="#0000ff" stroke-width="2.4" stroke-dasharray="8 3"/>
<path d="M448.30,424.70 C450.50,423.60 457.11,421.95 461.51,418.10 C465.91,414.25 470.32,407.95 474.72,401.60 C479.12,395.25 483.53,387.85 487.93,380.00 C492.33,372.15 496.74,360.67 501.14,354.50 C505.54,348.33 509.95,345.83 514.35,343.00 C518.75,340.17 523.16,338.62 527.56,337.50 C531.96,336.38 536.37,335.55 540.77,336.30 C545.17,337.05 549.58,338.72 553.98,342.00 C558.38,345.28 562.79,350.08 567.19,356.00 C571.59,361.92 576.00,371.17 580.40,377.50 C584.80,383.83 589.21,390.08 593.61,394.00 C598.01,397.92 604.62,399.83 606.82,401.00" fill="none" stroke="#ff0000" stroke-width="2.4" stroke-dasharray="8 3"/>
<line x1="514.35" y1="350.90" x2="514.35" y2="370.00" stroke="#000000" stroke-width="1.2"/>
<line x1="511.35" y1="350.90" x2="517.35" y2="350.90" stroke="#000000" stroke-width="1.2"/>
<line x1="511.35" y1="370.00" x2="517.35" y2="370.00" stroke="#000000" stroke-width="1.2"/>
<line x1="527.56" y1="341.70" x2="527.56" y2="367.00" stroke="#000000" stroke-width="1.2"/>
<line x1="524.56" y1="341.70" x2="530.56" y2="341.70" stroke="#000000" stroke-width="1.2"/>
<line x1="524.56" y1="367.00" x2="530.56" y2="367.00" stroke="#000000" stroke-width="1.2"/>
<line x1="540.77" y1="341.50" x2="540.77" y2="369.80" stroke="#000000" stroke-width="1.2"/>
<line x1="537.77" y1="341.50" x2="543.77" y2="341.50" stroke="#000000" stroke-width="1.2"/>
<line x1="537.77" y1="369.80" x2="543.77" y2="369.80" stroke="#000000" stroke-width="1.2"/>
<line x1="553.98" y1="348.60" x2="553.98" y2="378.90" stroke="#000000" stroke-width="1.2"/>
<line x1="550.98" y1="348.60" x2="556.98" y2="348.60" stroke="#000000" stroke-width="1.2"/>
<line x1="550.98" y1="378.90" x2="556.98" y2="378.90" stroke="#000000" stroke-width="1.2"/>
<line x1="567.19" y1="362.40" x2="567.19" y2="394.60" stroke="#000000" stroke-width="1.2"/>
<line x1="564.19" y1="362.40" x2="570.19" y2="362.40" stroke="#000000" stroke-width="1.2"/>
<line x1="564.19" y1="394.60" x2="570.19" y2="394.60" stroke="#000000" stroke-width="1.2"/>
<line x1="580.40" y1="373.80" x2="580.40" y2="407.30" stroke="#000000" stroke-width="1.2"/>
<line x1="577.40" y1="373.80" x2="583.40" y2="373.80" stroke="#000000" stroke-width="1.2"/>
<line x1="577.40" y1="407.30" x2="583.40" y2="407.30" stroke="#000000" stroke-width="1.2"/>
<line x1="593.61" y1="374.30" x2="593.61" y2="409.40" stroke="#000000" stroke-width="1.2"/>
<line x1="590.61" y1="374.30" x2="596.61" y2="374.30" stroke="#000000" stroke-width="1.2"/>
<line x1="590.61" y1="409.40" x2="596.61" y2="409.40" stroke="#000000" stroke-width="1.2"/>
<line x1="606.82" y1="365.60" x2="606.82" y2="399.90" stroke="#000000" stroke-width="1.2"/>
<line x1="603.82" y1="365.60" x2="609.82" y2="365.60" stroke="#000000" stroke-width="1.2"/>
<line x1="603.82" y1="399.90" x2="609.82" y2="399.90" stroke="#000000" stroke-width="1.2"/>
<rect x="445.80" y="423.00" width="5" height="5" fill="#fff" stroke="#000" stroke-width="0.9"/>
<rect x="459.01" y="419.00" width="5" height="5" fill="#fff" stroke="#000" stroke-width="0.9"/>
<rect x="472.22" y="404.70" width="5" height="5" fill="#fff" stroke="#000" stroke-width="0.9"/>
<rect x="485.43" y="386.40" width="5" height="5" fill="#fff" stroke="#000" stroke-width="0.9"/>
<rect x="498.64" y="370.10" width="5" height="5" fill="#fff" stroke="#000" stroke-width="0.9"/>
<rect x="511.85" y="358.70" width="5" height="5" fill="#fff" stroke="#000" stroke-width="0.9"/>
<rect x="525.06" y="352.50" width="5" height="5" fill="#fff" stroke="#000" stroke-width="0.9"/>
<rect x="538.27" y="353.50" width="5" height="5" fill="#fff" stroke="#000" stroke-width="0.9"/>
<rect x="551.48" y="361.50" width="5" height="5" fill="#fff" stroke="#000" stroke-width="0.9"/>
<rect x="564.69" y="376.50" width="5" height="5" fill="#fff" stroke="#000" stroke-width="0.9"/>
<rect x="577.90" y="387.50" width="5" height="5" fill="#fff" stroke="#000" stroke-width="0.9"/>
<rect x="591.11" y="389.00" width="5" height="5" fill="#fff" stroke="#000" stroke-width="0.9"/>
<rect x="604.32" y="379.50" width="5" height="5" fill="#fff" stroke="#000" stroke-width="0.9"/>
<line x1="527.56" y1="352.00" x2="527.56" y2="366.90" stroke="#0000ff" stroke-width="1.2"/>
<line x1="524.56" y1="352.00" x2="530.56" y2="352.00" stroke="#0000ff" stroke-width="1.2"/>
<line x1="524.56" y1="366.90" x2="530.56" y2="366.90" stroke="#0000ff" stroke-width="1.2"/>
<line x1="540.77" y1="352.00" x2="540.77" y2="366.90" stroke="#0000ff" stroke-width="1.2"/>
<line x1="537.77" y1="352.00" x2="543.77" y2="352.00" stroke="#0000ff" stroke-width="1.2"/>
<line x1="537.77" y1="366.90" x2="543.77" y2="366.90" stroke="#0000ff" stroke-width="1.2"/>
<line x1="553.98" y1="358.00" x2="553.98" y2="374.90" stroke="#0000ff" stroke-width="1.2"/>
<line x1="550.98" y1="358.00" x2="556.98" y2="358.00" stroke="#0000ff" stroke-width="1.2"/>
<line x1="550.98" y1="374.90" x2="556.98" y2="374.90" stroke="#0000ff" stroke-width="1.2"/>
<line x1="567.19" y1="373.50" x2="567.19" y2="388.30" stroke="#0000ff" stroke-width="1.2"/>
<line x1="564.19" y1="373.50" x2="570.19" y2="373.50" stroke="#0000ff" stroke-width="1.2"/>
<line x1="564.19" y1="388.30" x2="570.19" y2="388.30" stroke="#0000ff" stroke-width="1.2"/>
<line x1="580.40" y1="383.50" x2="580.40" y2="399.10" stroke="#0000ff" stroke-width="1.2"/>
<line x1="577.40" y1="383.50" x2="583.40" y2="383.50" stroke="#0000ff" stroke-width="1.2"/>
<line x1="577.40" y1="399.10" x2="583.40" y2="399.10" stroke="#0000ff" stroke-width="1.2"/>
<line x1="593.61" y1="383.50" x2="593.61" y2="401.40" stroke="#0000ff" stroke-width="1.2"/>
<line x1="590.61" y1="383.50" x2="596.61" y2="383.50" stroke="#0000ff" stroke-width="1.2"/>
<line x1="590.61" y1="401.40" x2="596.61" y2="401.40" stroke="#0000ff" stroke-width="1.2"/>
<line x1="606.82" y1="375.10" x2="606.82" y2="388.30" stroke="#0000ff" stroke-width="1.2"/>
<line x1="603.82" y1="375.10" x2="609.82" y2="375.10" stroke="#0000ff" stroke-width="1.2"/>
<line x1="603.82" y1="388.30" x2="609.82" y2="388.30" stroke="#0000ff" stroke-width="1.2"/>
<rect x="445.80" y="423.50" width="5" height="5" fill="#0000ff" stroke="#000" stroke-width="0.9"/>
<rect x="459.01" y="421.30" width="5" height="5" fill="#0000ff" stroke="#000" stroke-width="0.9"/>
<rect x="472.22" y="409.30" width="5" height="5" fill="#0000ff" stroke="#000" stroke-width="0.9"/>
<rect x="485.43" y="391.80" width="5" height="5" fill="#0000ff" stroke="#000" stroke-width="0.9"/>
<rect x="498.64" y="375.30" width="5" height="5" fill="#0000ff" stroke="#000" stroke-width="0.9"/>
<rect x="511.85" y="363.30" width="5" height="5" fill="#0000ff" stroke="#000" stroke-width="0.9"/>
<rect x="525.06" y="356.80" width="5" height="5" fill="#0000ff" stroke="#000" stroke-width="0.9"/>
<rect x="538.27" y="357.00" width="5" height="5" fill="#0000ff" stroke="#000" stroke-width="0.9"/>
<rect x="551.48" y="363.90" width="5" height="5" fill="#0000ff" stroke="#000" stroke-width="0.9"/>
<rect x="564.69" y="378.40" width="5" height="5" fill="#0000ff" stroke="#000" stroke-width="0.9"/>
<rect x="577.90" y="388.50" width="5" height="5" fill="#0000ff" stroke="#000" stroke-width="0.9"/>
<rect x="591.11" y="389.50" width="5" height="5" fill="#0000ff" stroke="#000" stroke-width="0.9"/>
<rect x="604.32" y="379.50" width="5" height="5" fill="#0000ff" stroke="#000" stroke-width="0.9"/>
<line x1="527.56" y1="345.70" x2="527.56" y2="356.00" stroke="#ff0000" stroke-width="1.2"/>
<line x1="524.56" y1="345.70" x2="530.56" y2="345.70" stroke="#ff0000" stroke-width="1.2"/>
<line x1="524.56" y1="356.00" x2="530.56" y2="356.00" stroke="#ff0000" stroke-width="1.2"/>
<line x1="540.77" y1="345.70" x2="540.77" y2="359.00" stroke="#ff0000" stroke-width="1.2"/>
<line x1="537.77" y1="345.70" x2="543.77" y2="345.70" stroke="#ff0000" stroke-width="1.2"/>
<line x1="537.77" y1="359.00" x2="543.77" y2="359.00" stroke="#ff0000" stroke-width="1.2"/>
<line x1="553.98" y1="353.70" x2="553.98" y2="369.00" stroke="#ff0000" stroke-width="1.2"/>
<line x1="550.98" y1="353.70" x2="556.98" y2="353.70" stroke="#ff0000" stroke-width="1.2"/>
<line x1="550.98" y1="369.00" x2="556.98" y2="369.00" stroke="#ff0000" stroke-width="1.2"/>
<line x1="567.19" y1="367.70" x2="567.19" y2="384.60" stroke="#ff0000" stroke-width="1.2"/>
<line x1="564.19" y1="367.70" x2="570.19" y2="367.70" stroke="#ff0000" stroke-width="1.2"/>
<line x1="564.19" y1="384.60" x2="570.19" y2="384.60" stroke="#ff0000" stroke-width="1.2"/>
<line x1="580.40" y1="378.80" x2="580.40" y2="398.80" stroke="#ff0000" stroke-width="1.2"/>
<line x1="577.40" y1="378.80" x2="583.40" y2="378.80" stroke="#ff0000" stroke-width="1.2"/>
<line x1="577.40" y1="398.80" x2="583.40" y2="398.80" stroke="#ff0000" stroke-width="1.2"/>
<line x1="593.61" y1="380.90" x2="593.61" y2="402.00" stroke="#ff0000" stroke-width="1.2"/>
<line x1="590.61" y1="380.90" x2="596.61" y2="380.90" stroke="#ff0000" stroke-width="1.2"/>
<line x1="590.61" y1="402.00" x2="596.61" y2="402.00" stroke="#ff0000" stroke-width="1.2"/>
<line x1="606.82" y1="372.40" x2="606.82" y2="393.50" stroke="#ff0000" stroke-width="1.2"/>
<line x1="603.82" y1="372.40" x2="609.82" y2="372.40" stroke="#ff0000" stroke-width="1.2"/>
<line x1="603.82" y1="393.50" x2="609.82" y2="393.50" stroke="#ff0000" stroke-width="1.2"/>
<rect x="445.80" y="422.20" width="5" height="5" fill="#ff0000" stroke="#000" stroke-width="0.9"/>
<rect x="459.01" y="416.70" width="5" height="5" fill="#ff0000" stroke="#000" stroke-width="0.9"/>
<rect x="472.22" y="400.70" width="5" height="5" fill="#ff0000" stroke="#000" stroke-width="0.9"/>
<rect x="485.43" y="381.00" width="5" height="5" fill="#ff0000" stroke="#000" stroke-width="0.9"/>
<rect x="498.64" y="363.80" width="5" height="5" fill="#ff0000" stroke="#000" stroke-width="0.9"/>
<rect x="511.85" y="353.00" width="5" height="5" fill="#ff0000" stroke="#000" stroke-width="0.9"/>
<rect x="525.06" y="347.80" width="5" height="5" fill="#ff0000" stroke="#000" stroke-width="0.9"/>
<rect x="538.27" y="350.10" width="5" height="5" fill="#ff0000" stroke="#000" stroke-width="0.9"/>
<rect x="551.48" y="359.20" width="5" height="5" fill="#ff0000" stroke="#000" stroke-width="0.9"/>
<rect x="564.69" y="374.10" width="5" height="5" fill="#ff0000" stroke="#000" stroke-width="0.9"/>
<rect x="577.90" y="386.50" width="5" height="5" fill="#ff0000" stroke="#000" stroke-width="0.9"/>
<rect x="591.11" y="388.90" width="5" height="5" fill="#ff0000" stroke="#000" stroke-width="0.9"/>
<rect x="604.32" y="379.90" width="5" height="5" fill="#ff0000" stroke="#000" stroke-width="0.9"/>
</g>
<rect x="420.7" y="287.5" width="211.4" height="211.9" fill="none" stroke="#000" stroke-width="1.8"/>
<text x="410.30" y="504.40" font-family='"Liberation Sans", sans-serif' font-size="13" font-weight="bold" text-anchor="end">0</text>
<text x="410.30" y="469.09" font-family='"Liberation Sans", sans-serif' font-size="13" font-weight="bold" text-anchor="end">15</text>
<text x="410.30" y="433.78" font-family='"Liberation Sans", sans-serif' font-size="13" font-weight="bold" text-anchor="end">30</text>
<text x="410.30" y="398.47" font-family='"Liberation Sans", sans-serif' font-size="13" font-weight="bold" text-anchor="end">45</text>
<text x="410.30" y="363.16" font-family='"Liberation Sans", sans-serif' font-size="13" font-weight="bold" text-anchor="end">60</text>
<text x="410.30" y="327.85" font-family='"Liberation Sans", sans-serif' font-size="13" font-weight="bold" text-anchor="end">75</text>
<text x="410.30" y="292.54" font-family='"Liberation Sans", sans-serif' font-size="13" font-weight="bold" text-anchor="end">90</text>
<text x="448.30" y="519.20" font-family='"Liberation Sans", sans-serif' font-size="13" font-weight="bold" text-anchor="middle">0</text>
<text x="501.15" y="519.20" font-family='"Liberation Sans", sans-serif' font-size="13" font-weight="bold" text-anchor="middle">1</text>
<text x="554.00" y="519.20" font-family='"Liberation Sans", sans-serif' font-size="13" font-weight="bold" text-anchor="middle">2</text>
<text x="606.85" y="519.20" font-family='"Liberation Sans", sans-serif' font-size="13" font-weight="bold" text-anchor="middle">3</text>
<text x="528.20" y="539.50" font-family='"Liberation Sans", sans-serif' font-size="13" font-weight="bold" text-anchor="middle" textLength="61.6" lengthAdjust="spacingAndGlyphs">Period [s]</text>
<text x="0.00" y="0.00" font-family='"Liberation Sans", sans-serif' font-size="13" font-weight="bold" text-anchor="middle" transform="translate(380,393) rotate(-90)" textLength="74.4" lengthAdjust="spacingAndGlyphs">Phase [deg]</text>
<text x="526.10" y="561.40" font-family='"Liberation Serif", serif' font-size="17" font-weight="bold" text-anchor="middle">b</text>
</svg>
</body></html>
